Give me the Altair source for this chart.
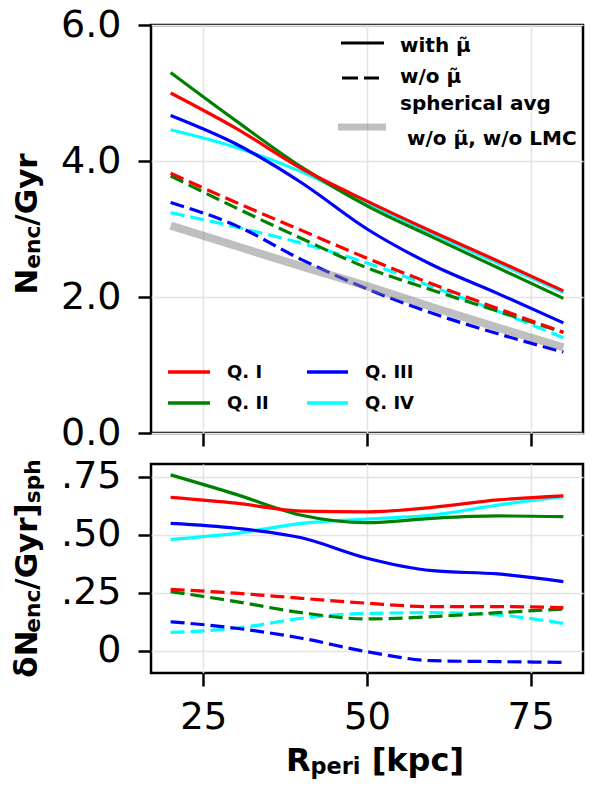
import altair as alt
import pandas as pd

# ---------------- data ----------------
R_PERI = [20, 30, 40, 50, 60, 70, 80]

# top panel: N_enc / Gyr
n_q1_with = [5.00, 4.48, 3.89, 3.41, 2.96, 2.53, 2.09]
n_q2_with = [5.30, 4.59, 3.91, 3.34, 2.88, 2.43, 1.98]
n_q3_with = [4.67, 4.25, 3.68, 3.00, 2.47, 2.05, 1.62]
n_q4_with = [4.46, 4.20, 3.84, 3.37, 2.93, 2.50, 2.07]
n_q1_wo = [3.82, 3.39, 2.98, 2.57, 2.19, 1.83, 1.48]
n_q2_wo = [3.78, 3.31, 2.86, 2.43, 2.10, 1.79, 1.48]
n_q3_wo = [3.39, 3.05, 2.55, 2.12, 1.76, 1.46, 1.19]
n_q4_wo = [3.24, 3.03, 2.79, 2.50, 2.15, 1.79, 1.40]
n_sph = [3.05, 2.75, 2.45, 2.16, 1.85, 1.55, 1.26]

# bottom panel: relative difference to spherical average
d_q1_with = [0.662, 0.637, 0.603, 0.600, 0.619, 0.651, 0.669]
d_q2_with = [0.759, 0.675, 0.585, 0.553, 0.572, 0.582, 0.579]
d_q3_with = [0.550, 0.529, 0.488, 0.400, 0.346, 0.332, 0.299]
d_q4_with = [0.481, 0.507, 0.550, 0.569, 0.586, 0.629, 0.665]
d_q1_wo = [0.266, 0.249, 0.227, 0.206, 0.191, 0.191, 0.187]
d_q2_wo = [0.256, 0.213, 0.165, 0.138, 0.148, 0.165, 0.181]
d_q3_wo = [0.126, 0.098, 0.055, -0.003, -0.042, -0.046, -0.049]
d_q4_wo = [0.080, 0.098, 0.141, 0.162, 0.165, 0.155, 0.119]

quad_labels = ["Q. I", "Q. II", "Q. III", "Q. IV"]
quad_colors = ["#ff0000", "#008000", "#0000ff", "#00ffff"]
MU = "\u03bc\u0303"
style_labels = ["with " + MU, "w/o " + MU, "spherical avg", "w/o " + MU + ",  w/o LMC"]

top_ticks = [0, 2, 4, 6]
bot_ticks = [0, 0.25, 0.5, 0.75]
x_ticks = [25, 50, 75]

# ---------------- tables ----------------
def long(series):
    rows = []
    for name, vals in series.items():
        for r, v in zip(R_PERI, vals):
            rows.append({"r": r, "v": v, "s": name})
    return pd.DataFrame(rows)

top_series = {
    "q1w": n_q1_with, "q2w": n_q2_with, "q3w": n_q3_with, "q4w": n_q4_with,
    "q1d": n_q1_wo, "q2d": n_q2_wo, "q3d": n_q3_wo, "q4d": n_q4_wo,
    "sph": n_sph,
}
bot_series = {
    "q1w": d_q1_with, "q2w": d_q2_with, "q3w": d_q3_with, "q4w": d_q4_with,
    "q1d": d_q1_wo, "q2d": d_q2_wo, "q3d": d_q3_wo, "q4d": d_q4_wo,
}
df_top = long(top_series)
df_bot = long(bot_series)

FONT = "DejaVu Sans"
GRID = "#e4e4e4"
DASH = [14, 6]
LW = 3.2

xscale = alt.Scale(domain=[17, 83], nice=False, zero=False)

common_axis = dict(domain=False, grid=True, gridColor=GRID, gridWidth=1.6,
                   ticks=True, tickSize=13, tickWidth=2.5, tickColor="black",
                   labelFont=FONT, labelColor="black", title=None)

x_top = alt.X("r:Q", scale=xscale,
              axis=alt.Axis(values=x_ticks, labels=False, **common_axis))
x_bot = alt.X("r:Q", scale=xscale,
              axis=alt.Axis(values=x_ticks, labelFontSize=37, labelPadding=13,
                            **common_axis))
y_top = alt.Y("v:Q", scale=alt.Scale(domain=[0, 6], nice=False, zero=False),
              axis=alt.Axis(values=top_ticks, format=".1f", labelFontSize=38,
                            labelPadding=17, **common_axis))
y_bot = alt.Y("v:Q", scale=alt.Scale(domain=[-0.095, 0.806], nice=False, zero=False),
              axis=alt.Axis(values=bot_ticks, labelFontSize=38, labelPadding=17,
                            labelExpr="datum.value == 0 ? '0' : replace(format(datum.value, '.2f'), '0.', '.')",
                            **common_axis))


def line_layer(df, name, color, xe, ye, dashed=False, width=LW, opacity=1.0):
    kw = dict(color=color, strokeWidth=width, interpolate="monotone", opacity=opacity)
    if dashed:
        kw["strokeDash"] = DASH
    return (alt.Chart(df).transform_filter(alt.datum.s == name)
            .mark_line(**kw).encode(x=xe, y=ye))


# approximate DejaVu Sans Bold advance widths (em)
BW = {"N": 0.837, "e": 0.678, "n": 0.712, "c": 0.593, "/": 0.365, "G": 0.821,
      "y": 0.652, "r": 0.493, "\u03b4": 0.612, "]": 0.457, "[": 0.457, "s": 0.595,
      "p": 0.716, "h": 0.712, "R": 0.770, "i": 0.343, " ": 0.348, "k": 0.665}


def text_run(pieces, center, base, rotated):
    """pieces: (text, size, shift, pre_gap_em)"""
    total = 0
    for txt, size, shift, gap in pieces:
        total += gap * size + sum(BW.get(ch, 0.6) for ch in txt) * size
    pos = -total / 2.0
    layers = []
    for txt, size, shift, gap in pieces:
        pos += gap * size
        if rotated:
            x, y, ang = base + shift, center - pos, 270
        else:
            x, y, ang = center + pos, base + shift, 0
        layers.append(
            alt.Chart(pd.DataFrame({"t": [txt]}))
            .mark_text(font=FONT, fontWeight="bold", fontSize=size, align="left",
                       baseline="alphabetic", angle=ang, color="black")
            .encode(text="t:N", x=alt.value(x), y=alt.value(y)))
        pos += sum(BW.get(ch, 0.6) for ch in txt) * size
    return layers


def label(txt, x, y, size):
    return (alt.Chart(pd.DataFrame({"t": [txt]}))
            .mark_text(font=FONT, fontWeight="bold", fontSize=size, align="left",
                       baseline="alphabetic", color="black")
            .encode(text="t:N", x=alt.value(x), y=alt.value(y)))


def swatch(x1, x2, y, color, width, dash=None, opacity=1.0):
    kw = dict(color=color, strokeWidth=width, opacity=opacity)
    if dash:
        kw["strokeDash"] = dash
    return (alt.Chart(pd.DataFrame({"t": [0]})).mark_rule(**kw)
            .encode(x=alt.value(x1), x2=alt.value(x2), y=alt.value(y)))


W, H_TOP, H_BOT = 432, 408, 209
TS = 31     # title font size
SUB = 0.7 * TS
TITLE_BASE = -114

# ---------------- top panel ----------------
top_layers = []
for i in [3, 2, 1, 0]:
    top_layers.append(line_layer(df_top, "q%dd" % (i + 1), quad_colors[i], x_top, y_top, dashed=True))
for i in [3, 2, 1, 0]:
    top_layers.append(line_layer(df_top, "q%dw" % (i + 1), quad_colors[i], x_top, y_top))
top_layers.append(line_layer(df_top, "sph", "#808080", x_top, y_top, width=8, opacity=0.5))

# style legend (upper right)
top_layers += [
    swatch(190, 233, 18, "black", 3),
    swatch(191, 228, 53, "black", 3, dash=[16, 6]),
    swatch(187, 235, 102, "#808080", 7, opacity=0.5),
    label(style_labels[0], 249, 27, 20),
    label(style_labels[1], 249, 58, 20),
    label(style_labels[2], 249, 85, 20),
    label(style_labels[3], 256, 120, 20),
]
# quadrant legend (lower left)
qpos = [(17, 59, 347, 76, 353), (17, 59, 378, 76, 384),
        (156, 197, 347, 214, 353), (156, 197, 378, 214, 384)]
for i, (a, b, ly, tx, ty) in enumerate(qpos):
    top_layers.append(swatch(a, b, ly, quad_colors[i], 3.3))
    top_layers.append(label(quad_labels[i], tx, ty, 18))

top_layers += text_run([("N", TS, 0, 0), ("enc", SUB, 3, 0), ("/Gyr", TS, 0, 0)],
                       center=199, base=TITLE_BASE, rotated=True)

top = alt.layer(*top_layers).properties(width=W, height=H_TOP)

# ---------------- bottom panel ----------------
bot_layers = []
for i in [3, 2, 1, 0]:
    bot_layers.append(line_layer(df_bot, "q%dd" % (i + 1), quad_colors[i], x_bot, y_bot, dashed=True))
for i in [3, 2, 1, 0]:
    bot_layers.append(line_layer(df_bot, "q%dw" % (i + 1), quad_colors[i], x_bot, y_bot))

bot_layers += text_run([("\u03b4N", TS, 0, 0), ("enc", SUB, 3, 0), ("/Gyr]", TS, 0, 0),
                        ("sph", SUB, 3, 0)],
                       center=H_BOT / 2.0, base=TITLE_BASE, rotated=True)
bot_layers += text_run([("R", 32, 0, 0), ("peri", 22.4, 3, 0), ("[kpc]", 32, 0, 0.348)],
                       center=224, base=307, rotated=False)

bottom = alt.layer(*bot_layers).properties(width=W, height=H_BOT)

chart = (alt.vconcat(top, bottom, spacing=31, bounds="flush")
         .properties(padding={"left": 2, "top": -4, "right": 0, "bottom": 0},
                     background="white")
         .configure_view(stroke="black", strokeWidth=2.5))

chart.save("out.html", embed_options={"renderer": "svg", "actions": False})
